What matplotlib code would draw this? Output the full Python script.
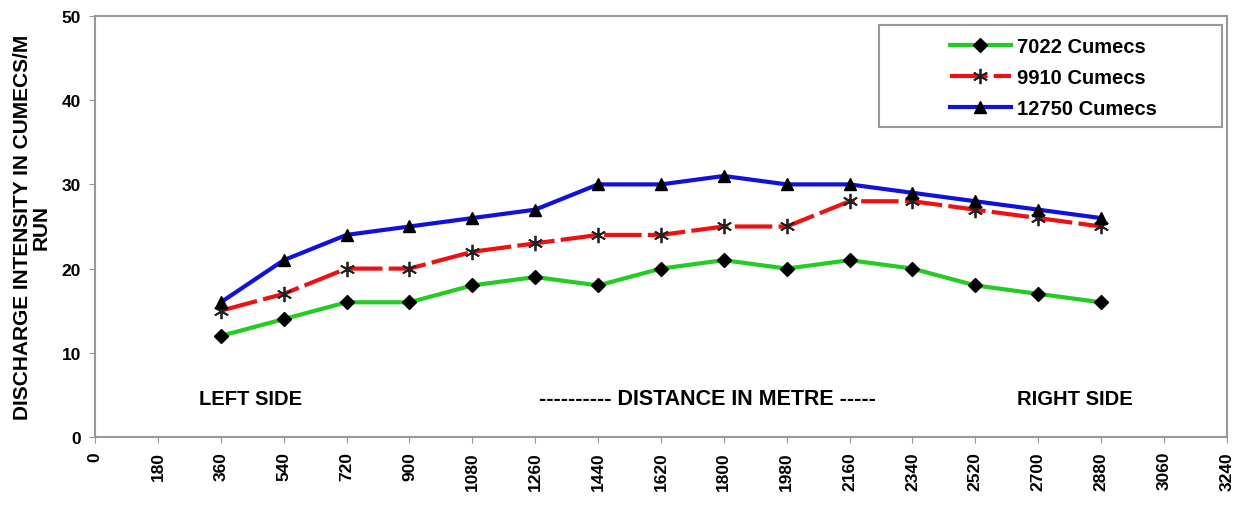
import matplotlib.pyplot as plt
from matplotlib.patches import Rectangle

plt.rcParams['font.family'] = ['Liberation Sans', 'DejaVu Sans']
plt.rcParams['font.weight'] = 'bold'

# distance along the section (m)
distance = [360, 540, 720, 900, 1080, 1260, 1440, 1620, 1800, 1980, 2160, 2340, 2520, 2700, 2880]
q_7022 = [12, 14, 16, 16, 18, 19, 18, 20, 21, 20, 21, 20, 18, 17, 16]
q_9910 = [15, 17, 20, 20, 22, 23, 24, 24, 25, 25, 28, 28, 27, 26, 25]
q_12750 = [16, 21, 24, 25, 26, 27, 30, 30, 31, 30, 30, 29, 28, 27, 26]
x_ticks = list(range(0, 3241, 180))
y_ticks = [0, 10, 20, 30, 40, 50]

fig = plt.figure(figsize=(12.41, 5.06), dpi=100)
ax = fig.add_axes([0.0766, 0.1344, 0.912, 0.832])

ax.plot(distance, q_7022, color='#22cc22', lw=3, marker='D', ms=7,
        mfc='black', mec='black', label='7022 Cumecs')
ax.plot(distance, q_9910, color='#ee1111', lw=3, ls=(0, (9, 1.5)), marker=(6, 2, 0), ms=11,
        mfc='black', mec='#222222', mew=1.3, label='9910 Cumecs')
ax.plot(distance, q_12750, color='#1111dd', lw=3, marker='^', ms=8,
        mfc='black', mec='black', label='12750 Cumecs')

ax.set_xlim(0, 3240)
ax.set_ylim(0, 50)
ax.set_xticks(x_ticks)
ax.set_xticklabels([str(t) for t in x_ticks], rotation=90, fontsize=12.5, fontweight='bold')
ax.set_yticks(y_ticks)
ax.set_yticklabels([str(t) for t in y_ticks], fontsize=12.5, fontweight='bold')
ax.tick_params(axis='both', color='#999999', length=4, pad=6)
for s in ax.spines.values():
    s.set_color('#999999')
    s.set_linewidth(1.5)

ax.set_ylabel('DISCHARGE INTENSITY IN CUMECS/M\nRUN', fontsize=15, fontweight='bold',
              linespacing=1.0, labelpad=8)

ax.text(0.137, 4.6, 'LEFT SIDE', transform=ax.get_yaxis_transform(),
        ha='center', va='center', fontsize=14.5, fontweight='bold')
ax.text(0.541, 4.6, '---------- DISTANCE IN METRE -----', transform=ax.get_yaxis_transform(),
        ha='center', va='center', fontsize=15.5, fontweight='bold')
ax.text(0.866, 4.6, 'RIGHT SIDE', transform=ax.get_yaxis_transform(),
        ha='center', va='center', fontsize=14.5, fontweight='bold')

# legend box
ax.add_patch(Rectangle((0.693, 0.736), 0.3026, 0.243, transform=ax.transAxes,
                       facecolor='white', edgecolor='#999999', lw=1.5, zorder=4))
leg = ax.legend(loc='upper right', bbox_to_anchor=(0.945, 0.97), fontsize=14.5, frameon=False,
                labelspacing=0.6, handlelength=3.0, handletextpad=0.3, borderaxespad=0)
leg.set_zorder(5)
for t in leg.get_texts():
    t.set_fontweight('bold')

plt.savefig('out.png', dpi=100)
plt.close()
